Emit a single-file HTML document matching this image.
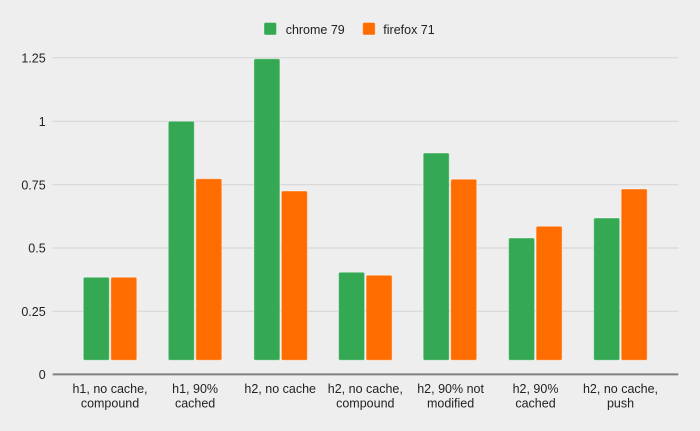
<!DOCTYPE html>
<html>
<head>
<meta charset="utf-8">
<style>
html,body{margin:0;padding:0;background:#eeeeee;}
svg{display:block;}
text{font-family:"Liberation Sans",Arial,sans-serif;fill:#222;font-size:12.5px;}
</style>
</head>
<body>
<svg width="700" height="431" viewBox="0 0 700 431" xmlns="http://www.w3.org/2000/svg">
<rect x="0" y="0" width="700" height="431" fill="#eeeeee"/>
<!-- legend -->
<rect x="264" y="22.5" width="12.5" height="12.5" rx="1.5" fill="#34a853" stroke="#ffffff" stroke-opacity="0.35" stroke-width="1"/>
<text x="285.7" y="34">chrome 79</text>
<rect x="362.7" y="22.5" width="12.5" height="12.5" rx="1.5" fill="#ff6d01" stroke="#ffffff" stroke-opacity="0.35" stroke-width="1"/>
<text x="383.3" y="34">firefox 71</text>
<!-- gridlines -->
<g stroke="#d7d7d7" stroke-width="1.2">
<line x1="52.7" y1="57.7" x2="678.3" y2="57.7"/>
<line x1="52.7" y1="121.3" x2="678.3" y2="121.3"/>
<line x1="52.7" y1="184.7" x2="678.3" y2="184.7"/>
<line x1="52.7" y1="248" x2="678.3" y2="248"/>
<line x1="52.7" y1="311.3" x2="678.3" y2="311.3"/>
</g>
<!-- y labels -->
<g text-anchor="end">
<text x="45.7" y="62.3">1.25</text>
<text x="45.7" y="125.9">1</text>
<text x="45.7" y="189.3">0.75</text>
<text x="45.7" y="252.6">0.5</text>
<text x="45.7" y="315.9">0.25</text>
<text x="45.7" y="379">0</text>
</g>
<!-- bars -->
<g stroke="#ffffff" stroke-opacity="0.4" stroke-width="1">
<rect x="83.3" y="277.3" width="26" height="82.9" rx="1.5" fill="#34a853"/>
<rect x="110.8" y="277.3" width="26" height="82.9" rx="1.5" fill="#ff6d01"/>

<rect x="168.3" y="121.3" width="26" height="238.9" rx="1.5" fill="#34a853"/>
<rect x="195.8" y="178.7" width="26" height="181.5" rx="1.5" fill="#ff6d01"/>

<rect x="253.9" y="58.7" width="26" height="301.5" rx="1.5" fill="#34a853"/>
<rect x="281.4" y="191" width="26" height="169.2" rx="1.5" fill="#ff6d01"/>

<rect x="338.6" y="272.3" width="26" height="87.9" rx="1.5" fill="#34a853"/>
<rect x="366.1" y="275.3" width="26" height="84.9" rx="1.5" fill="#ff6d01"/>

<rect x="423.2" y="153" width="26" height="207.2" rx="1.5" fill="#34a853"/>
<rect x="450.7" y="179.3" width="26" height="180.9" rx="1.5" fill="#ff6d01"/>

<rect x="508.6" y="238" width="26" height="122.2" rx="1.5" fill="#34a853"/>
<rect x="536.1" y="226.3" width="26" height="133.9" rx="1.5" fill="#ff6d01"/>

<rect x="593.7" y="218" width="26" height="142.2" rx="1.5" fill="#34a853"/>
<rect x="621.2" y="189" width="26" height="171.2" rx="1.5" fill="#ff6d01"/>
</g>
<!-- axis -->
<line x1="52.7" y1="374.4" x2="678.3" y2="374.4" stroke="#808080" stroke-width="2"/>
<!-- x labels -->
<g text-anchor="middle">
<text x="110" y="393">h1, no cache,</text>
<text x="110" y="407.5">compound</text>
<text x="195.1" y="393">h1, 90%</text>
<text x="195.1" y="407.5">cached</text>
<text x="280.2" y="393">h2, no cache</text>
<text x="365.3" y="393">h2, no cache,</text>
<text x="365.3" y="407.5">compound</text>
<text x="450.6" y="393">h2, 90% not</text>
<text x="450.6" y="407.5">modified</text>
<text x="535.5" y="393">h2, 90%</text>
<text x="535.5" y="407.5">cached</text>
<text x="620.5" y="393">h2, no cache,</text>
<text x="620.5" y="407.5">push</text>
</g>
</svg>
</body>
</html>
